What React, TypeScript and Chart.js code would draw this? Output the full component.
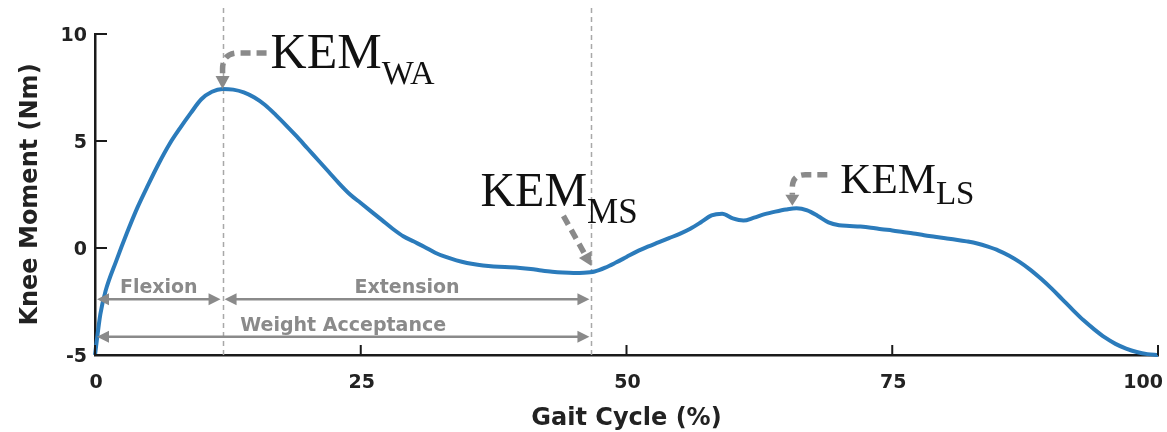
import { useEffect, useRef } from 'react';
import { Chart, registerables } from 'chart.js';

Chart.register(...registerables);

// Knee extension moment over one gait cycle
const gaitCycle = [
  0, 0.5, 1, 2, 3, 4, 5, 6, 7, 8, 9, 10, 11, 12, 13, 14, 15, 16, 17, 18, 19, 20,
  21, 22, 23, 24, 25, 26, 27, 28, 29, 30, 31, 32, 33, 34, 35, 36, 37, 38, 39, 40,
  41, 42, 43, 44, 45, 46, 47, 48, 49, 50, 51, 52, 53, 54, 55, 56, 57, 58, 59, 60,
  61, 62, 63, 64, 65, 66, 67, 68, 69, 70, 71, 72, 73, 74, 75, 76, 77, 78, 79, 80,
  81, 82, 83, 84, 85, 86, 87, 88, 89, 90, 91, 92, 93, 94, 95, 96, 97, 98, 99, 100,
];
const kneeMoment = [
  -5, -3.1, -2.0, -0.6, 0.7, 1.9, 2.95, 3.95, 4.85, 5.6, 6.3, 6.95, 7.3, 7.43, 7.4, 7.27,
  7.03, 6.68, 6.22, 5.72, 5.2, 4.65, 4.1, 3.55, 3.0, 2.5, 2.1, 1.7, 1.3, 0.9, 0.55, 0.3,
  0.05, -0.22, -0.42, -0.58, -0.7, -0.78, -0.84, -0.88, -0.9, -0.93, -0.98, -1.05, -1.11, -1.15, -1.17, -1.16,
  -1.1, -0.92, -0.68, -0.42, -0.16, 0.06, 0.26, 0.46, 0.66, 0.9, 1.2, 1.52, 1.6, 1.38, 1.28, 1.42,
  1.58, 1.7, 1.8, 1.86, 1.76, 1.5, 1.2, 1.06, 1.03, 1.0, 0.95, 0.88, 0.82, 0.75, 0.68, 0.6,
  0.53, 0.46, 0.39, 0.31, 0.21, 0.06, -0.12, -0.36, -0.66, -1.02, -1.44, -1.9, -2.4, -2.9, -3.38, -3.8,
  -4.18, -4.48, -4.7, -4.86, -4.96, -5.0,
];

const xTickValues = [0, 25, 50, 75, 100];
const yTickValues = [-5, 0, 5, 10];

// Phase boundaries (% gait cycle) drawn as dashed verticals
const phaseBoundaries = [12, 46.7];

// Phase spans under the curve
const phaseNames = ['Flexion', 'Extension', 'Weight Acceptance'];
const phaseStart = [0, 12, 0];
const phaseEnd = [12, 46.7, 46.7];
const phaseLevel = [-2.4, -2.4, -4.15];

// Knee extension moment events
const kemSubscripts = ['WA', 'MS', 'LS'];
const kemPct = [12, 46.7, 65.6];

const SANS = '"DejaVu Sans", Verdana, sans-serif';
const SERIF = '"Liberation Serif", "Times New Roman", serif';
const LINE_BLUE = '#2b7bbb';
const AXIS = '#1a1a1a';
const GREY = '#8a8a8a';

// Styling of each event label / arrow, in pixels relative to the arrow tip
const kemStyles = [
  { kind: 'hook', textDx: 48, textDy: -21, size: 50, subSize: 34, subDy: 16, startDx: 44, startDy: -36, radius: 16, head: 13, gap: 0 },
  { kind: 'straight', textDx: -111, textDy: -60, size: 48, subSize: 35, subDy: 17, startDx: -28, startDy: -50, radius: 0, head: 13, gap: 6 },
  { kind: 'hook', textDx: 48, textDy: -13, size: 43, subSize: 33, subDy: 11, startDx: 35, startDy: -31, radius: 13, head: 11, gap: 3 },
];

function momentAt(pct: number): number {
  for (let i = 1; i < gaitCycle.length; i++) {
    if (pct <= gaitCycle[i]) {
      const t = (pct - gaitCycle[i - 1]) / (gaitCycle[i] - gaitCycle[i - 1]);
      return kneeMoment[i - 1] + t * (kneeMoment[i] - kneeMoment[i - 1]);
    }
  }
  return kneeMoment[kneeMoment.length - 1];
}

function arrowHead(ctx: CanvasRenderingContext2D, x: number, y: number, angle: number, len: number, halfW: number) {
  ctx.save();
  ctx.translate(x, y);
  ctx.rotate(angle);
  ctx.beginPath();
  ctx.moveTo(0, 0);
  ctx.lineTo(-len, -halfW);
  ctx.lineTo(-len, halfW);
  ctx.closePath();
  ctx.fill();
  ctx.restore();
}

const boundaryLines = {
  id: 'boundaryLines',
  beforeDatasetsDraw(chart: any) {
    const { ctx, chartArea, scales } = chart;
    const xs = scales.x;
    ctx.save();
    ctx.strokeStyle = '#a8a8a8';
    ctx.lineWidth = 1.5;
    ctx.setLineDash([5, 4]);
    phaseBoundaries.forEach((pct) => {
      const x = Math.round(xs.getPixelForValue(pct)) + 0.5;
      ctx.beginPath();
      ctx.moveTo(x, chartArea.top - 26);
      ctx.lineTo(x, chartArea.bottom);
      ctx.stroke();
    });
    ctx.restore();
  },
};

const gaitAnnotations = {
  id: 'gaitAnnotations',
  afterDatasetsDraw(chart: any) {
    const { ctx, scales } = chart;
    const xs = scales.x;
    const ys = scales.y;
    ctx.save();

    // Phase spans with double-headed arrows
    ctx.fillStyle = GREY;
    ctx.strokeStyle = GREY;
    ctx.lineWidth = 2.5;
    ctx.setLineDash([]);
    phaseNames.forEach((name, i) => {
      const x1 = xs.getPixelForValue(phaseStart[i]) + 2;
      const x2 = xs.getPixelForValue(phaseEnd[i]) - 2;
      const y = ys.getPixelForValue(phaseLevel[i]);
      ctx.beginPath();
      ctx.moveTo(x1 + 10, y);
      ctx.lineTo(x2 - 10, y);
      ctx.stroke();
      arrowHead(ctx, x1, y, Math.PI, 12, 6);
      arrowHead(ctx, x2, y, 0, 12, 6);
      ctx.font = `bold 19px ${SANS}`;
      ctx.textAlign = 'center';
      ctx.textBaseline = 'alphabetic';
      ctx.fillText(name, (x1 + x2) / 2, y - 6);
    });

    // Event labels with dashed pointer arrows
    kemSubscripts.forEach((sub, i) => {
      const s = kemStyles[i];
      const tx = xs.getPixelForValue(kemPct[i]);
      const ty = ys.getPixelForValue(momentAt(kemPct[i])) - s.gap;
      const sx = tx + s.startDx;
      const sy = ty + s.startDy;

      ctx.strokeStyle = GREY;
      ctx.fillStyle = GREY;
      ctx.lineWidth = 5.5;
      ctx.lineCap = 'butt';
      ctx.setLineDash([10, 6]);
      ctx.beginPath();
      ctx.moveTo(sx, sy);
      if (s.kind === 'hook') {
        ctx.lineTo(tx + s.radius, sy);
        ctx.quadraticCurveTo(tx, sy, tx, sy + s.radius);
        ctx.lineTo(tx, ty - s.head);
        ctx.stroke();
        ctx.setLineDash([]);
        arrowHead(ctx, tx, ty, Math.PI / 2, s.head, 7);
      } else {
        const ang = Math.atan2(ty - sy, tx - sx);
        ctx.lineTo(tx - Math.cos(ang) * s.head, ty - Math.sin(ang) * s.head);
        ctx.stroke();
        ctx.setLineDash([]);
        arrowHead(ctx, tx, ty, ang, s.head, 7);
      }

      ctx.fillStyle = '#111';
      ctx.textAlign = 'left';
      ctx.textBaseline = 'alphabetic';
      ctx.font = `${s.size}px ${SERIF}`;
      const bx = tx + s.textDx;
      const by = ty + s.textDy;
      ctx.fillText('KEM', bx, by);
      const w = ctx.measureText('KEM').width;
      ctx.font = `${s.subSize}px ${SERIF}`;
      ctx.fillText(sub, bx + w, by + s.subDy);
    });
    ctx.restore();
  },
};

const axisTicks = {
  id: 'axisTicks',
  afterDraw(chart: any) {
    const { ctx, chartArea, scales, width } = chart;
    const xs = scales.x;
    const ys = scales.y;
    ctx.save();
    ctx.strokeStyle = AXIS;
    ctx.lineWidth = 2;
    ctx.setLineDash([]);
    // inward tick marks
    xs.ticks.forEach((t: any) => {
      const x = xs.getPixelForValue(t.value);
      ctx.beginPath();
      ctx.moveTo(x, chartArea.bottom);
      ctx.lineTo(x, chartArea.bottom - 10);
      ctx.stroke();
    });
    ys.ticks.forEach((t: any) => {
      const y = ys.getPixelForValue(t.value);
      ctx.beginPath();
      ctx.moveTo(chartArea.left, y);
      ctx.lineTo(chartArea.left + 12, y);
      ctx.stroke();
    });
    // x tick labels, kept inside the canvas
    ctx.fillStyle = '#222';
    ctx.font = `bold 19px ${SANS}`;
    ctx.textAlign = 'left';
    ctx.textBaseline = 'alphabetic';
    xs.ticks.forEach((t: any) => {
      const label = String(t.value);
      const w = ctx.measureText(label).width;
      let left = xs.getPixelForValue(t.value) - w / 2 + 1;
      left = Math.min(left, width - 4 - w);
      ctx.fillText(label, left, chartArea.bottom + 33);
    });
    ctx.restore();
  },
};

export default function App() {
  const canvasRef = useRef<HTMLCanvasElement | null>(null);

  useEffect(() => {
    document.body.style.margin = '0';
    const canvas = canvasRef.current;
    if (!canvas) return;
    const chart = new Chart(canvas, {
      type: 'line',
      data: {
        datasets: [
          {
            label: 'Knee Moment',
            data: gaitCycle.map((x, i) => ({ x, y: kneeMoment[i] })),
            borderColor: LINE_BLUE,
            borderWidth: 4,
            pointRadius: 0,
            fill: false,
            cubicInterpolationMode: 'monotone',
            clip: false as any,
          },
        ],
      },
      options: {
        animation: false,
        responsive: false,
        devicePixelRatio: 1,
        layout: { padding: { top: 34, right: 9, left: 0, bottom: 0 } },
        plugins: { legend: { display: false }, tooltip: { enabled: false } },
        scales: {
          x: {
            type: 'linear',
            min: 0,
            max: 100,
            afterBuildTicks: (scale: any) => {
              scale.ticks = xTickValues.map((value) => ({ value }));
            },
            ticks: { display: false },
            grid: { display: false, drawTicks: false },
            border: { display: true, color: AXIS, width: 2.5 },
            title: {
              display: true,
              text: 'Gait Cycle (%)',
              color: '#222',
              font: { family: SANS, size: 24, weight: 'bold' },
              padding: { top: 0, bottom: -1 },
            },
            afterFit: (scale: any) => {
              scale.height = 77;
            },
          },
          y: {
            type: 'linear',
            min: -5,
            max: 10,
            afterBuildTicks: (scale: any) => {
              scale.ticks = yTickValues.map((value) => ({ value }));
            },
            ticks: {
              color: '#222',
              padding: 8,
              labelOffset: 2,
              font: { family: SANS, size: 19, weight: 'bold' },
            },
            grid: { display: false, drawTicks: false },
            border: { display: true, color: AXIS, width: 2.5 },
            title: {
              display: true,
              text: 'Knee Moment (Nm)',
              color: '#222',
              font: { family: SANS, size: 24, weight: 'bold' },
              padding: { top: 16, bottom: 0 },
            },
            afterFit: (scale: any) => {
              scale.width = 95;
            },
          },
        },
      },
      plugins: [boundaryLines, gaitAnnotations, axisTicks],
    } as any);
    return () => chart.destroy();
  }, []);

  return (
    <div style={{ width: 1167, height: 432 }}>
      <canvas ref={canvasRef} width={1167} height={432} />
    </div>
  );
}
